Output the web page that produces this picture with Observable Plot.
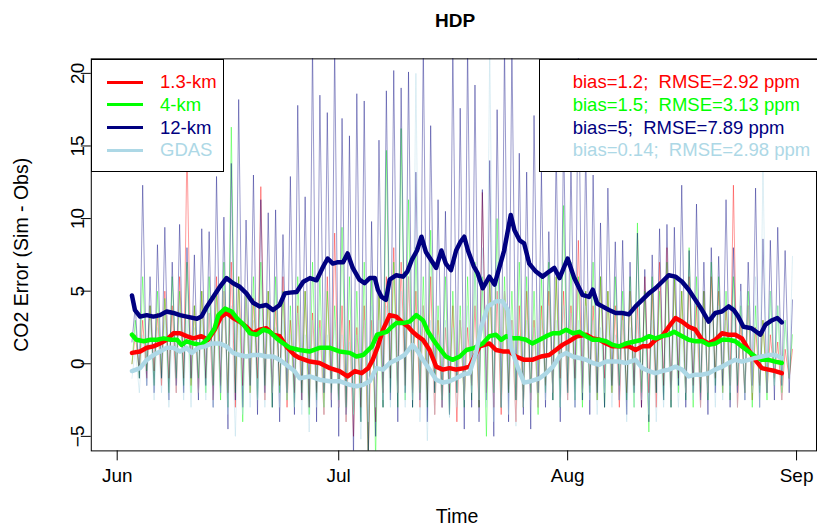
<!DOCTYPE html>
<html><head><meta charset="utf-8">
<script src="https://cdn.jsdelivr.net/npm/d3@7"></script>
<script src="https://cdn.jsdelivr.net/npm/@observablehq/plot@0.6"></script>
<style>
html,body{margin:0;padding:0;background:#fff;overflow:hidden;}
#wrap{position:relative;width:817px;height:527px;overflow:hidden;font-family:"Liberation Sans",Arial,Helvetica,sans-serif;}
#wrap svg{position:absolute;left:0;top:0;}
.ov{position:absolute;white-space:pre;}
</style></head><body><div id="wrap"></div>
<script>
// ---------- data ----------
const seriesNames = ["1.3-km", "4-km", "12-km", "GDAS"];
const seriesColors = ["#ff0000", "#00ff00", "#000080", "#add8e6"];
const statsText = ["bias=1.2;  RMSE=2.92 ppm", "bias=1.5;  RMSE=3.13 ppm", "bias=5;  RMSE=7.89 ppm", "bias=0.14;  RMSE=2.98 ppm"];
const yTicks = [-5, 0, 5, 10, 15, 20];
const monthTicks = ["2014-06-01", "2014-07-01", "2014-08-01", "2014-09-01"];
const xTickLabels = ["Jun", "Jul", "Aug", "Sep"];
const firstDay = 2; // day offset from Jun 1 of first hourly-series day

// hourly series, daily peaks and troughs (days Jun 3 .. Aug 31)
const peaks13 = [2,3,4,3.5,5,4,6,15,4,5, 3.5,6,5,7,6,5,4.5,12.2,5,4, 6,3,4,5,3.5,3,6,9,4,3, 2.5,4,3,5,6,8,7,6,5,4, 6,3,2.5,4,3,2.5,4,11.8,6,5, 5,3,4,5,3,4,5,6,5,4, 8.5,5,4,6,5,4,3.5,5,4,6, 5,7,8,6,5,6,4,5,6,5, 4,12.3,3,4,2.5,3,2,1.5,1,1];
const troughs13 = [0,-0.5,-1,-0.5,-1.5,-1,-2,-1,-1.5,-2, -1,-2.5,-1.5,-2,-3,-1.5,-2,-1,-2.5,-2, -1.5,-3,-2,-2.5,-3,-2,-3.5,-2.5,-3,-4, -5,-3,-6.5,-4,-2,-1,-2,-1.5,-2,-3, -2.5,-3.5,-3,-2,-4,-2.5,-1.5,-3,-2,-3, -3.5,-2,-4,-3,-2.5,-3,-1.5,-2,-1,-2.5, -1,-2,-1.5,-2.5,-1,-2,-3,-2,-1.5,-3, -2,-3,-1.5,-2.5,-1,-2,-1.5,-3,-2,-1, -2,-1.5,-3,-2,-2.5,-1.5,-2,-1,-2.5,-1];
const peaks4 = [3,6,4,5,4.5,6,5,7,4,5, 6,5,7,16.3,6,5,6,7,5,6, 5,4,6,5,7,6,5,4,9.4,6, 5,7,6,5,14.7,7,16.2,11.3,8,6, 9.2,4,6,5,4,6,7,6,6,10, 6,5,7,6,5,6,7,6,10.9,7, 6,5,7,6,5,6,5,6,9.7,5, 6,5,7,6,5,8,6,5,7,6, 5,6,4,5,4,3,5,4,3,2];
const troughs4 = [0,-1,-0.5,-1.5,-1,-2,-1,-1.5,-2,-1, -2,-1.5,-2.5,-3,-2,-4,-2,-2.5,-1.5,-3, -2,-2.5,-3,-2,-3.5,-2.5,-3,-2,-2.5,-3, -3.5,-4,-6.5,-6.5,-3,-2,-3,-2.5,-3,-2, -3,-2,-2.5,-3.5,-2,-3,-2.5,-3,-5,-2, -3,-2,-2.5,-3,-2,-3.5,-2,-2.5,-3,-2, -2.5,-3,-2,-2.5,-3,-2,-1.5,-2.5,-3,-2, -4.7,-2,-2.5,-3,-2,-2.5,-3,-2,-2.5,-1.5, -2,-2.5,-1.5,-2,-3,-2,-2.5,-1.5,-2,-1];
const peaks12 = [4,12.3,6,8.2,9.4,7,9.6,8,7.5,9.3, 9.1,12.9,10.1,13.8,18.2,9.9,13,11.3,10.4,10.6, 8.9,12.9,17.8,11.5,22,18.5,17.3,22,16.9,15.7, 18.6,18.1,9.8,15.4,18.8,20.2,19,20.1,13.2,22, 16.4,11.3,10.5,22,17.6,22,19.2,12,14,17.5, 22,22,14.5,13.2,17.1,13.2,9.1,14.9,16,14, 22,15,13,9.7,12.1,8.4,8.5,7,9,6.5, 7.5,9.3,9.6,9.4,12.3,7.8,11,7,8,7.4, 11.3,8,5.5,7,12.1,8.6,8.5,9.4,7.8,4.4];
const troughs12 = [1.5,-1,-1.5,-2,-1,-2.5,-1.5,-2,-1,-2.5, -1.5,-3,-2,-4.5,-2.5,-3,-1.5,-3.5,-2,-3, -4,-2,-3.5,-2.5,-3,-4,-2,-3,-5,-3.5, -6.5,-4,-6.5,-5,-3,-2.5,-4,-2,-3,-2.5, -4,-2,-3,-3.5,-2,-4.5,-3,-4,-2.5,-5, -3,-4,-2.5,-3.5,-4.5,-2,-3,-2.5,-4,-2, -3,-2.5,-3.5,-2,-3,-1.5,-2.5,-3.5,-2,-3, -4,-2,-2.5,-3,-1.5,-3,-2,-2.5,-3.5,-2, -1.5,-3,-2,-2.5,-1.5,-3,-2,-2.5,-1.5,-2];
const peaksGdas = [1,2,3,2.5,3,2,4,3,2.5,3, 4,3,5,4,3,5,3,4,3,2.5, 3,2,3.5,2,3,2.5,2,3,2,1.5, 2,3,4,3,4,3.5,5,6,20,4, 3,2,3,2.5,3,4,6,8,22,7, 5,3,2,3,2.5,3,4,3,4,3.5, 3,4,3,2.5,3,2,3,2.5,3,2, 3,2,2.5,3,2,3,2.5,3,3.5,4, 3,4,5,4,6,13.5,5,4,3,7.4];
const troughsGdas = [-1,-2,-1.5,-2.5,-2,-3,-2,-2.5,-3,-2, -2.5,-3,-2,-3.5,-5,-3.5,-3,-2.5,-3,-2, -3,-2.5,-3,-3.5,-4.7,-3,-3.5,-2.5,-3,-4, -3.5,-5.2,-4,-3,-2.5,-3,-2,-3,-2.5,-4, -5.3,-3.5,-3,-3.7,-3,-2.5,-2,-2.5,-3,-4, -3,-3.5,-4.3,-3,-2.5,-3,-2.5,-2,-3,-2.5, -3,-2,-2.5,-3.5,-2,-3,-2.5,-4,-3,-2.5, -3.5,-4,-3,-2.5,-3,-2,-2.5,-3,-2,-3, -2.5,-2,-3,-2.5,-2,-3,-2,-1.5,-2.5,-1];

// smoothed series: [day offset from Jun 1, value]
const smooth13 = [[2.0,0.75],[3.1,0.85],[4.0,1.1],[4.9,1.2],[5.8,1.4],[6.7,1.65],[7.6,2.1],[8.5,2.1],[9.4,1.9],[10.3,1.75],[11.4,1.9],[12.3,1.65],[13.2,2.35],[14.1,3.25],[14.8,3.5],[15.7,3.15],[16.6,2.9],[17.5,2.55],[18.4,2.1],[19.3,2.35],[20.2,2.45],[21.1,2.0],[22.0,1.9],[22.9,1.2],[24.0,0.6],[24.7,0.4],[26.1,0.15],[27.4,0.05],[28.8,-0.3],[30.1,-0.5],[31.2,-0.87],[32.2,-0.5],[33.1,-0.65],[34.0,-0.3],[34.6,0.27],[35.3,1.2],[36.0,2.35],[36.9,3.35],[37.8,3.25],[38.5,2.9],[39.4,2.55],[40.0,2.2],[40.7,1.9],[41.4,1.65],[42.3,0.95],[43.2,-0.2],[44.1,-0.4],[45.0,-0.3],[45.9,-0.4],[47.0,-0.3],[47.7,-0.2],[49.1,1.2],[50.4,1.4],[51.3,0.95],[52.2,0.85],[53.1,0.85],[54.0,0.5],[55.1,0.27],[56.2,0.27],[57.4,0.5],[58.5,0.6],[59.4,0.95],[60.3,1.3],[61.2,1.55],[62.3,1.9],[63.5,2.0],[64.4,1.75],[65.3,1.65],[66.2,1.4],[67.1,1.2],[68.4,1.2],[69.3,1.2],[70.2,0.95],[71.1,1.2],[72.0,1.2],[72.9,1.65],[73.8,1.9],[74.7,2.55],[75.6,3.15],[76.5,2.9],[77.4,2.55],[78.3,2.35],[79.2,1.65],[80.1,1.4],[81.0,1.65],[81.9,2.1],[82.8,2.0],[83.7,2.0],[84.6,1.75],[85.5,0.95],[86.4,0.27],[87.3,-0.3],[88.2,-0.4],[89.1,-0.5],[90.0,-0.65]];
const smooth4 = [[2.0,2.0],[2.6,1.65],[3.6,1.55],[4.5,1.65],[5.4,1.65],[6.3,1.75],[7.2,1.65],[8.1,1.65],[8.7,1.3],[9.4,1.55],[10.3,1.4],[11.4,1.3],[12.3,1.75],[13.2,2.45],[13.7,3.35],[14.6,3.8],[15.5,3.6],[16.2,3.15],[17.1,2.7],[18.0,2.1],[18.9,2.0],[19.8,2.35],[20.7,2.2],[21.6,1.75],[22.5,1.4],[23.4,1.1],[24.7,0.95],[26.1,0.85],[27.4,1.1],[28.8,1.1],[30.1,0.85],[31.5,0.75],[32.4,0.5],[33.3,0.6],[34.5,1.2],[35.2,2.0],[35.8,2.1],[36.5,2.2],[37.2,2.55],[37.8,2.8],[38.7,2.8],[39.6,2.9],[40.5,3.35],[41.4,3.0],[42.1,2.2],[42.8,1.65],[43.6,1.1],[44.5,0.5],[45.4,0.27],[46.4,0.5],[47.3,0.95],[48.4,1.1],[49.5,1.4],[50.4,1.9],[51.3,2.0],[52.0,1.65],[52.7,1.9],[53.6,1.75],[54.5,1.75],[55.4,1.65],[56.2,1.4],[57.2,1.65],[58.1,1.9],[59.0,2.1],[59.9,2.1],[60.8,2.35],[61.7,2.1],[62.6,2.2],[63.5,1.9],[64.4,1.65],[65.3,1.65],[66.2,1.55],[67.1,1.3],[68.0,1.2],[68.9,1.4],[70.2,1.55],[71.1,1.65],[72.0,1.9],[72.9,1.75],[73.8,1.9],[74.7,2.0],[75.4,2.2],[76.5,1.9],[77.4,1.65],[78.3,1.55],[79.2,1.55],[80.1,1.3],[81.0,1.4],[81.9,1.65],[82.8,1.65],[83.7,1.55],[84.6,1.2],[85.5,0.85],[86.4,0.5],[87.3,0.27],[88.2,0.27],[89.1,0.15],[90.0,0.05]];
const smooth12 = [[2.0,4.7],[2.4,3.7],[3.1,3.25],[4.0,3.35],[4.9,3.25],[5.8,3.35],[6.7,3.6],[7.6,3.5],[8.5,3.35],[9.4,3.25],[10.8,3.1],[11.4,3.25],[12.1,3.9],[13.0,4.6],[13.9,5.3],[14.8,5.9],[15.7,5.55],[16.6,5.3],[17.5,4.85],[18.4,4.2],[19.3,3.95],[20.2,4.05],[21.1,3.7],[22.0,4.05],[22.7,4.85],[23.4,4.9],[24.3,4.95],[25.2,5.65],[26.1,5.9],[27.0,5.75],[27.9,6.7],[28.5,7.25],[29.2,6.9],[29.9,7.0],[30.6,7.0],[31.2,7.6],[31.9,6.6],[32.8,5.8],[33.5,5.55],[34.2,5.9],[34.9,5.9],[35.3,5.1],[35.8,4.6],[36.4,4.4],[36.9,5.8],[37.8,6.1],[38.7,6.0],[39.3,6.35],[39.9,7.15],[40.6,7.8],[41.2,8.75],[41.8,7.7],[42.5,7.15],[43.2,6.6],[43.9,7.8],[44.5,6.9],[45.2,6.45],[45.9,7.8],[46.5,8.4],[47.0,8.75],[47.5,7.8],[48.3,6.7],[48.8,6.25],[49.5,5.2],[50.4,6.0],[51.1,5.45],[51.8,6.7],[52.4,7.8],[53.3,10.25],[53.8,9.2],[54.5,8.5],[55.1,8.3],[55.8,6.9],[56.7,6.35],[57.6,6.0],[58.5,6.35],[59.2,6.6],[59.9,5.9],[61.0,7.25],[61.9,5.9],[63.0,4.75],[63.9,4.6],[64.4,5.1],[65.0,4.15],[65.7,3.95],[66.6,3.7],[67.5,3.5],[68.4,3.5],[69.3,3.4],[70.2,3.95],[71.1,4.4],[72.0,4.85],[72.9,5.2],[73.8,5.65],[74.7,6.1],[75.6,6.0],[76.5,5.65],[77.4,5.1],[78.3,4.4],[79.2,3.7],[80.1,2.9],[81.0,3.5],[81.9,3.6],[82.8,3.95],[83.5,3.7],[84.1,3.25],[84.8,2.55],[85.9,2.45],[87.1,2.0],[87.8,2.7],[88.7,3.0],[89.4,3.15],[90.0,2.85]];
const smoothGdas = [[2.0,-0.5],[3.1,-0.3],[4.0,0.27],[4.9,0.6],[5.8,0.85],[6.7,1.1],[7.6,1.1],[8.5,0.85],[9.4,1.1],[10.1,0.75],[11.0,1.1],[11.9,1.2],[12.8,1.4],[13.9,1.4],[14.8,1.2],[15.7,0.75],[16.6,0.6],[17.5,0.5],[18.4,0.6],[19.3,0.6],[20.2,0.5],[21.1,0.5],[22.0,0.27],[22.9,-0.07],[24.0,-0.5],[24.7,-1.0],[26.1,-0.87],[27.4,-1.1],[28.8,-1.2],[30.1,-1.2],[31.5,-1.45],[32.4,-1.55],[33.3,-1.45],[34.2,-1.2],[35.1,-0.3],[36.0,-0.4],[36.9,0.05],[37.8,0.27],[38.9,0.6],[40.0,1.3],[40.7,0.85],[41.4,0.27],[42.3,-0.4],[43.2,-1.1],[44.1,-1.3],[45.0,-1.2],[45.9,-1.0],[47.0,-0.7],[47.7,-0.65],[48.6,0.75],[49.3,2.55],[50.2,3.95],[51.3,4.3],[52.2,4.3],[52.9,3.7],[53.3,1.2],[54.2,-0.2],[55.1,-1.3],[56.0,-1.2],[57.2,-1.0],[58.1,-0.65],[59.0,-0.2],[59.9,0.5],[60.8,0.75],[61.7,0.5],[62.6,0.4],[63.5,0.27],[64.4,0.05],[65.3,-0.07],[66.2,0.15],[67.1,0.15],[68.0,0.15],[68.9,0.05],[70.2,0.27],[71.1,-0.3],[72.0,-0.5],[72.9,-0.65],[73.8,-0.5],[74.7,-0.4],[75.6,-0.2],[76.5,-0.4],[77.4,-0.87],[78.3,-0.75],[79.2,-0.75],[80.1,-0.65],[81.0,-0.4],[81.9,-0.2],[82.8,0.05],[83.7,0.27],[84.6,0.15],[85.5,0.27],[86.4,0.4],[87.3,0.5],[88.2,0.6],[89.1,0.6],[90.0,0.4]];

// ---------- build ----------
const base = Date.UTC(2014, 5, 1);
const dayToDate = d => new Date(base + d * 864e5);
function hourly(peaks, troughs) {
  const out = [];
  peaks.forEach((p, i) => {
    out.push({date: dayToDate(firstDay + i), v: troughs[i]});
    out.push({date: dayToDate(firstDay + i + 0.45), v: p});
  });
  return out;
}
const smoothRows = s => s.map(([d, v]) => ({date: dayToDate(d), v}));
const thin = [hourly(peaks13, troughs13), hourly(peaks4, troughs4), hourly(peaks12, troughs12), hourly(peaksGdas, troughsGdas)];
const thick = [smoothRows(smooth13), smoothRows(smooth4), smoothRows(smooth12), smoothRows(smoothGdas)];

const marks = [];
thin.forEach((rows, i) => marks.push(Plot.line(rows, {x: "date", y: "v", stroke: seriesColors[i], strokeOpacity: 0.45, strokeWidth: 0.9, clip: true})));
thick.forEach((rows, i) => marks.push(Plot.line(rows, {x: "date", y: "v", stroke: seriesColors[i], strokeWidth: 4.5, clip: true, curve: "linear"})));
marks.push(Plot.frame({stroke: "#000", strokeWidth: 1}));

const fmtMonth = d3.utcFormat("%b");
const chart = Plot.plot({
  width: 819, height: 527,
  marginLeft: 91, marginRight: 1, marginTop: 58.5, marginBottom: 75.5,
  style: {fontFamily: "'Liberation Sans', Arial, sans-serif", fontSize: "19px", color: "#000", background: "transparent", overflow: "visible"},
  x: {type: "utc", domain: [dayToDate(-3.51), dayToDate(94.7)], ticks: monthTicks.map(s => new Date(s + "T00:00:00Z")),
      tickFormat: d => xTickLabels[monthTicks.indexOf(d.toISOString().slice(0, 10))] ?? fmtMonth(d), tickSize: 10, tickPadding: 8, label: null},
  y: {domain: [-6, 21], ticks: yTicks, tickSize: 10, tickRotate: -90, tickPadding: -3, label: null},
  marks
});
const wrap = document.getElementById("wrap");
wrap.appendChild(chart);

// ---------- overlays: title, axis titles, legends ----------
function ov(text, css) {
  const el = document.createElement("div");
  el.className = "ov";
  el.textContent = text;
  Object.assign(el.style, css);
  wrap.appendChild(el);
  return el;
}
ov("HDP", {left: "355px", width: "200px", textAlign: "center", top: "10.6px", fontSize: "19px", lineHeight: "19px", fontWeight: "bold"});
ov("Time", {left: "357px", width: "200px", textAlign: "center", top: "506.5px", fontSize: "19.5px", lineHeight: "19.5px"});
ov("CO2 Error (Sim - Obs)", {left: "-127.8px", width: "300px", textAlign: "center", top: "245.25px", fontSize: "19.5px", lineHeight: "19.5px", transform: "rotate(-90deg)"});

const legendY = [82, 104.8, 127.6, 150.4];
// left legend box
const lb = document.createElement("div");
Object.assign(lb.style, {position: "absolute", left: "91px", top: "58.5px", width: "133px", height: "113px", border: "1px solid #000", background: "#fff", boxSizing: "border-box"});
wrap.appendChild(lb);
seriesNames.forEach((n, i) => {
  const ln = document.createElement("div");
  Object.assign(ln.style, {position: "absolute", left: "106.7px", width: "36px", top: (legendY[i] - 1.5) + "px", height: "3px", background: seriesColors[i]});
  wrap.appendChild(ln);
  ov(n, {left: "160px", top: (legendY[i] - 9.06) + "px", fontSize: "18.5px", lineHeight: "18.5px", color: seriesColors[i]});
});
// right legend box
const rb = document.createElement("div");
Object.assign(rb.style, {position: "absolute", left: "539px", top: "58.5px", width: "300px", height: "113px", border: "1px solid #000", background: "#fff", boxSizing: "border-box"});
wrap.appendChild(rb);
statsText.forEach((t, i) => ov(t, {left: "572.7px", top: (legendY[i] - 9.06) + "px", fontSize: "18.5px", lineHeight: "18.5px", color: seriesColors[i]}));
</script>
</body></html>
